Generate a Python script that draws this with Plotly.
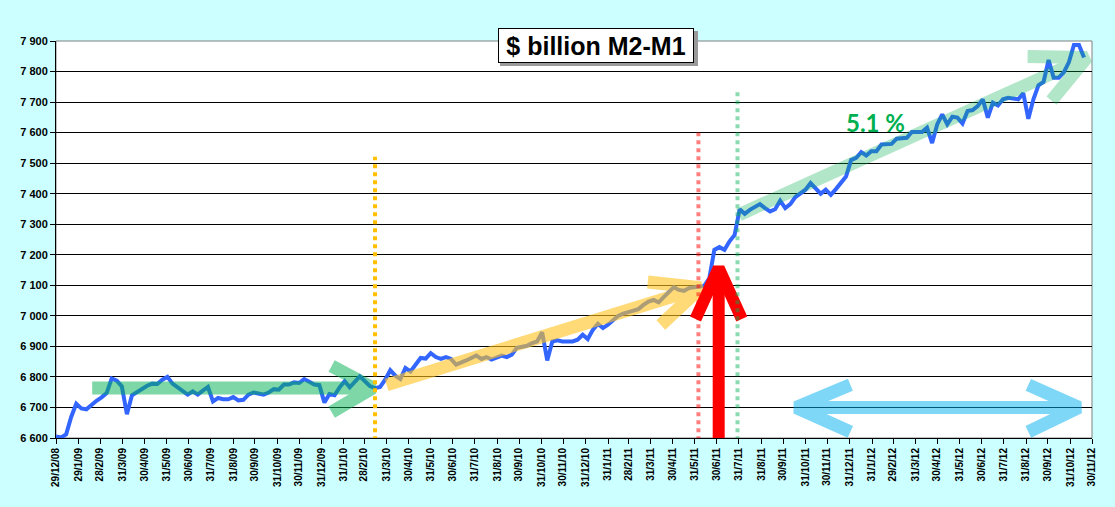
import pandas as pd
import plotly.graph_objects as go

# weekly M2 minus M1, $ billion, weeks from 29/12/08
start_week = "2008-12-29"
m2_m1 = [
    6605, 6602, 6612, 6669, 6712, 6697, 6694, 6709, 6722, 6733,
    6747, 6795, 6788, 6769, 6678, 6740, 6751, 6760, 6771, 6778,
    6777, 6791, 6800, 6778, 6767, 6756, 6742, 6753, 6742, 6755,
    6767, 6720, 6731, 6727, 6727, 6734, 6723, 6725, 6742, 6749,
    6745, 6742, 6749, 6760, 6758, 6775, 6775, 6782, 6780, 6793,
    6784, 6775, 6773, 6716, 6744, 6740, 6766, 6786, 6766, 6783,
    6802, 6786, 6770, 6763, 6767, 6791, 6822, 6804, 6793, 6829,
    6818, 6840, 6862, 6860, 6878, 6865, 6859, 6865, 6859, 6840,
    6846, 6854, 6862, 6870, 6859, 6865, 6857, 6865, 6870, 6865,
    6873, 6895, 6897, 6902, 6911, 6916, 6946, 6854, 6916, 6920,
    6916, 6916, 6916, 6922, 6938, 6924, 6954, 6974, 6960, 6971,
    6987, 7000, 7007, 7011, 7017, 7022, 7036, 7047, 7052, 7044,
    7061, 7076, 7094, 7085, 7082, 7091, 7093, 7094, 7098, 7123,
    7216, 7225, 7216, 7244, 7265, 7349, 7334, 7347, 7358, 7366,
    7353, 7342, 7349, 7377, 7353, 7366, 7389, 7400, 7413, 7435,
    7415, 7400, 7413, 7396, 7415, 7437, 7456, 7510, 7517, 7536,
    7525, 7539, 7539, 7561, 7561, 7563, 7580, 7583, 7583, 7602,
    7602, 7602, 7616, 7566, 7627, 7660, 7627, 7652, 7649, 7630,
    7671, 7674, 7687, 7709, 7649, 7698, 7689, 7709, 7714, 7711,
    7709, 7729, 7645, 7709, 7755, 7766, 7838, 7780, 7780, 7797,
    7830, 7887, 7887, 7846,
]

tick_dates = [
    "2008-12-29", "2009-01-29", "2009-02-28", "2009-03-31", "2009-04-30", "2009-05-31",
    "2009-06-30", "2009-07-31", "2009-08-31", "2009-09-30", "2009-10-31", "2009-11-30",
    "2009-12-31", "2010-01-31", "2010-02-28", "2010-03-31", "2010-04-30", "2010-05-31",
    "2010-06-30", "2010-07-31", "2010-08-31", "2010-09-30", "2010-10-31", "2010-11-30",
    "2010-12-31", "2011-01-31", "2011-02-28", "2011-03-31", "2011-04-30", "2011-05-31",
    "2011-06-30", "2011-07-31", "2011-08-31", "2011-09-30", "2011-10-31", "2011-11-30",
    "2011-12-31", "2012-01-31", "2012-02-29", "2012-03-31", "2012-04-30", "2012-05-31",
    "2012-06-30", "2012-07-31", "2012-08-31", "2012-09-30", "2012-10-31", "2012-11-30",
]
tick_labels = [
    "29/12/08", "29/1/09", "28/2/09", "31/3/09", "30/4/09", "31/5/09",
    "30/6/09", "31/7/09", "31/8/09", "30/9/09", "31/10/09", "30/11/09",
    "31/12/09", "31/1/10", "28/2/10", "31/3/10", "30/4/10", "31/5/10",
    "30/6/10", "31/7/10", "31/8/10", "30/9/10", "31/10/10", "30/11/10",
    "31/12/10", "31/1/11", "28/2/11", "31/3/11", "30/4/11", "31/5/11",
    "30/6/11", "31/7/11", "31/8/11", "30/9/11", "31/10/11", "30/11/11",
    "31/12/11", "31/1/12", "29/2/12", "31/3/12", "30/4/12", "31/5/12",
    "30/6/12", "31/7/12", "31/8/12", "30/9/12", "31/10/12", "30/11/12",
]

weeks = pd.date_range(start_week, periods=len(m2_m1), freq="7D")

fig = go.Figure()
fig.add_trace(go.Scatter(x=weeks, y=m2_m1, mode="lines",
                         line=dict(color="#3366FF", width=4), hoverinfo="skip"))


def add_arrow(fig, pts, color, opacity, width=13):
    '''pts: list of (date, value) with None to break the stroke'''
    xs = [p[0] if p else None for p in pts]
    ys = [p[1] if p else None for p in pts]
    fig.add_trace(go.Scatter(x=xs, y=ys, mode="lines", opacity=opacity,
                             line=dict(color=color, width=width),
                             hoverinfo="skip", connectgaps=False))


# flat period arrow
add_arrow(fig, [("2009-02-17", 6764), ("2010-03-12", 6764), None,
                ("2010-01-14", 6836), ("2010-03-12", 6764), ("2010-01-14", 6685)],
          "rgb(0,176,80)", 0.5)
# rising arrow 2010-11
add_arrow(fig, [("2010-03-31", 6774), ("2011-06-08", 7092), None,
                ("2011-03-27", 7111), ("2011-06-08", 7092), ("2011-04-14", 6970)],
          "rgb(255,195,30)", 0.6)
# 5.1 % trend arrow
add_arrow(fig, [("2011-07-31", 7331), ("2012-11-23", 7846), None,
                ("2012-09-02", 7849), ("2012-11-23", 7846), ("2012-10-05", 7705)],
          "rgb(0,176,80)", 0.3)
# double arrow
add_arrow(fig, [("2011-10-18", 6700), ("2012-11-12", 6700), None,
                ("2012-01-01", 6774), ("2011-10-18", 6700), ("2012-01-01", 6620), None,
                ("2012-09-03", 6774), ("2012-11-12", 6700), ("2012-09-03", 6620)],
          "rgb(0,176,240)", 0.5)
# red jump arrow
add_arrow(fig, [("2011-07-03", 6590), ("2011-07-03", 7157), None,
                ("2011-06-01", 6990), ("2011-07-03", 7157), ("2011-08-04", 6990)],
          "#FF0000", 1.0, width=12)

# dotted markers
for d, top, col in [("2010-03-15", 7521, "#FFC000"),
                    ("2011-06-05", 7600, "rgba(255,0,0,0.5)"),
                    ("2011-07-29", 7744, "rgba(0,176,80,0.45)")]:
    fig.add_shape(type="line", x0=d, x1=d, y0=6593, y1=top, xref="x", yref="y",
                  line=dict(color=col, width=4, dash="dot"), layer="above")

# plot frame (top/right grey)
fig.add_shape(type="rect", xref="paper", yref="paper", x0=0, x1=1, y0=0, y1=1,
              line=dict(color="#808080", width=1), layer="below")

# title box with shadow
fig.add_shape(type="rect", xref="paper", yref="paper", x0=0.4286, x1=0.6197,
              y0=0.937, y1=1.025, fillcolor="#9A9A9A", line=dict(width=0), layer="above")
fig.add_annotation(text="$ billion M2-M1", xref="paper", yref="paper", x=0.5212, y=0.9887,
                   xanchor="center", yanchor="middle",
                   showarrow=False, width=190, height=29, borderpad=2,
                   bgcolor="white", bordercolor="black", borderwidth=1,
                   font=dict(family="Arial, Liberation Sans", size=25, color="black", weight="bold"))
fig.add_annotation(text="5.1 %", x="2012-02-05", y=7633, showarrow=False,
                   xanchor="center", yanchor="middle",
                   font=dict(family="Lato", size=24, color="#00B050", weight="bold"))

fig.update_layout(
    width=1115, height=507,
    margin=dict(l=56, r=23, t=41, b=69),
    paper_bgcolor="#CCFFFF", plot_bgcolor="white",
    showlegend=False, separators=". ",
    font=dict(family="Arial, Liberation Sans", color="black"),
)
fig.update_xaxes(type="date", range=["2008-12-29", "2012-11-30"],
                 tickvals=tick_dates, ticktext=tick_labels, tickangle=-90,
                 tickfont=dict(size=10, weight="bold"),
                 ticks="outside", ticklen=5, tickcolor="black",
                 showgrid=False, showline=True, linecolor="black", linewidth=1)
fig.update_yaxes(range=[6600, 7900], dtick=100, tickformat=",d",
                 tickfont=dict(size=11, weight="bold"),
                 ticks="outside", ticklen=5, tickcolor="black",
                 showgrid=True, gridcolor="black", gridwidth=1,
                 showline=True, linecolor="black", linewidth=1, zeroline=False)

fig.write_html("out.html", config={"displayModeBar": False},
               post_script="document.body.style.margin='0';"
                           "document.body.style.background='#CCFFFF';")
